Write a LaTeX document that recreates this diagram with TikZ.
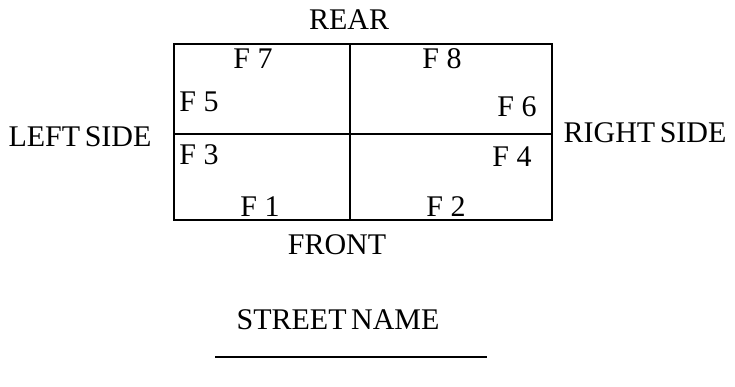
\documentclass[tikz,border=0pt]{standalone}
\usepackage{fontspec}
\setmainfont{Liberation Serif}
\newfontfamily\tightfont[WordSpace=0.6]{Liberation Serif}
\begin{document}
\begin{tikzpicture}[x=1pt,y=1pt,
  lbl/.style={inner sep=0pt,anchor=base,font=\tightfont\fontsize{30}{32}\selectfont},
  flbl/.style={inner sep=0pt,anchor=base,font=\fontsize{30}{32}\selectfont},
  wall/.style={line width=1.8pt}]
\useasboundingbox (0,0) rectangle (735,387);
% plan rectangle
\coordinate (tl) at (174,343);
\coordinate (br) at (552,167);
\coordinate (tm) at (350,343);
\coordinate (bm) at (350,167);
\coordinate (ml) at (174,253);
\coordinate (mr) at (552,253);
\draw[wall] (tl) rectangle (br);
\draw[wall] (tm) -- (bm);
\draw[wall] (ml) -- (mr);
% labels
\node[lbl] (rear) at (349,357) {REAR};
\node[lbl] (front) at (337,132) {FRONT};
\node[lbl] (left) at (80,240) {LEFT SIDE};
\node[lbl] (right) at (645,244) {RIGHT SIDE};
\node[lbl] (street) at (338,57) {STREET NAME};
\node[flbl] (f7) at (253,318) {F 7};
\node[flbl] (f5) at (199,275) {F 5};
\node[flbl] (f8) at (442,318) {F 8};
\node[flbl] (f6) at (517,270) {F 6};
\node[flbl] (f3) at (199,222) {F 3};
\node[flbl] (f1) at (260,170) {F 1};
\node[flbl] (f4) at (512,220) {F 4};
\node[flbl] (f2) at (446,170) {F 2};
% street line
\coordinate (sl) at (215,30);
\coordinate (sr) at (487,30);
\draw[wall] (sl) -- (sr);
\end{tikzpicture}
\end{document}
